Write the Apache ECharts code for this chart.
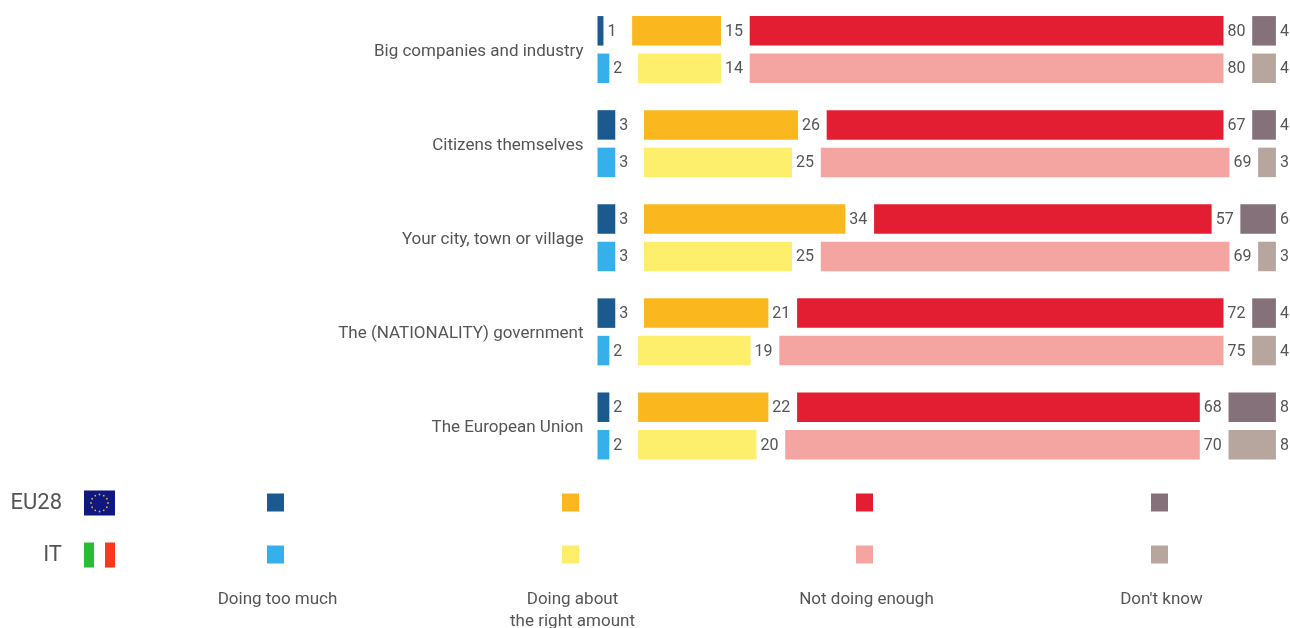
<!DOCTYPE html>
<html>
<head>
<meta charset="utf-8">
<style>html,body{margin:0;padding:0;background:#fff}#chart{width:1290px;height:628px}</style>
<script src="https://cdn.jsdelivr.net/npm/echarts@6/dist/echarts.min.js"></script>
</head>
<body>
<div id="chart"></div>
<script>
// Survey answers per actor, percentages
const categories = ['Big companies and industry', 'Citizens themselves', 'Your city, town or village', 'The (NATIONALITY) government', 'The European Union'];
const answers = ['Doing too much', 'Doing about\nthe right amount', 'Not doing enough', "Don't know"];

const euTooMuch = [1, 3, 3, 3, 2];
const euRight = [15, 26, 34, 21, 22];
const euNotEnough = [80, 67, 57, 72, 68];
const euDontKnow = [4, 4, 6, 4, 8];

const itTooMuch = [2, 3, 3, 2, 2];
const itRight = [14, 25, 25, 19, 20];
const itNotEnough = [80, 69, 69, 75, 70];
const itDontKnow = [4, 3, 3, 4, 8];

const euColors = ['#1a5a8e', '#fab81e', '#e41e32', '#85717a'];
const itColors = ['#36b0ea', '#fdee6c', '#f4a5a2', '#b6a69e'];

const TEXT = '#555555';
const FONT = 'Roboto';
// Blank stretch between answers on the percent scale; holds the value labels
const SPACER = 4.85;

function stackSeries(stack, columns, colors) {
  const out = [];
  columns.forEach((values, i) => {
    out.push({
      name: stack + ' ' + answers[i], type: 'bar', stack, barWidth: 29.5, barGap: '27%',
      itemStyle: { color: colors[i] }, data: values, z: 3,
      label: { show: true, position: 'right', distance: 4, offset: [0, 1], color: TEXT, fontFamily: FONT, fontSize: 16 }
    });
    if (i < columns.length - 1) {
      out.push({
        name: stack + ' spacer ' + i, type: 'bar', stack, barWidth: 29.5, barGap: '27%', silent: true,
        itemStyle: { color: 'transparent' }, data: values.map(() => SPACER), z: 1
      });
    }
  });
  return out;
}

// Table-style key under the chart
const columnX = [275.5, 570.5, 864.5, 1159.5];
const key = [];
function keyRow(label, y, flagChildren, colors) {
  key.push({ type: 'text', style: { text: label, x: 62, y, align: 'right', verticalAlign: 'middle', fill: TEXT, font: '22px ' + FONT } });
  key.push({ type: 'group', x: 84, y: y - 12.5, children: flagChildren });
  colors.forEach((c, i) => key.push({ type: 'rect', shape: { x: columnX[i] - 8.5, y: y - 9.5, width: 17, height: 18 }, style: { fill: c } }));
}
const euStars = [];
for (let i = 0; i < 12; i++) {
  const a = i * Math.PI / 6;
  euStars.push({ type: 'circle', shape: { cx: 15.5 + 8.5 * Math.cos(a), cy: 12.5 + 8.5 * Math.sin(a), r: 0.9 }, style: { fill: '#c9b94a' } });
}
keyRow('EU28', 503, [{ type: 'rect', shape: { x: 0, y: 0, width: 31, height: 25 }, style: { fill: '#10177f' } }, ...euStars], euColors);
keyRow('IT', 555, [
  { type: 'rect', shape: { x: 0, y: 0, width: 10, height: 25 }, style: { fill: '#27bd35' } },
  { type: 'rect', shape: { x: 21, y: 0, width: 10, height: 25 }, style: { fill: '#f9391c' } }
], itColors);
answers.forEach((a, i) => key.push({
  type: 'text',
  style: { text: a, x: columnX[i] + 2, y: 588, align: 'center', verticalAlign: 'top', fill: TEXT, font: '17px ' + FONT, lineHeight: 22.5 }
}));

const chart = echarts.init(document.getElementById('chart'), null, { renderer: 'canvas' });
chart.setOption({
  animation: false,
  backgroundColor: '#ffffff',
  grid: { left: 597.5, top: 2.5, width: 678.4, height: 470.5, containLabel: false },
  xAxis: { type: 'value', min: 0, max: 100 + 3 * SPACER, show: false },
  yAxis: {
    type: 'category', inverse: true, data: categories,
    axisLine: { show: false }, axisTick: { show: false }, splitLine: { show: false },
    axisLabel: {
      margin: 14, formatter: '{name|{value}}',
      rich: { name: { color: TEXT, fontFamily: FONT, fontSize: 17, padding: [4, 0, 0, 0] } }
    }
  },
  series: [
    ...stackSeries('EU28', [euTooMuch, euRight, euNotEnough, euDontKnow], euColors),
    ...stackSeries('IT', [itTooMuch, itRight, itNotEnough, itDontKnow], itColors)
  ],
  graphic: { elements: key }
});
</script>
</body>
</html>
